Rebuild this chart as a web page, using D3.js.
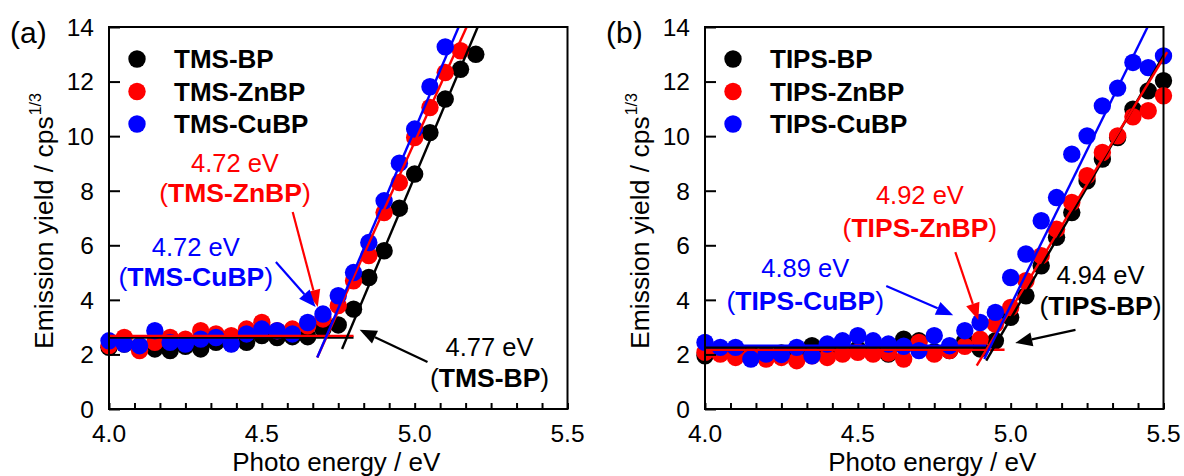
<!DOCTYPE html>
<html><head><meta charset="utf-8">
<script src="https://cdn.jsdelivr.net/npm/d3@7"></script>
<style>
body{margin:0;background:#fff}
svg{display:block;font-family:"Liberation Sans",Arial,Helvetica,sans-serif}
</style>
</head><body>
<svg id="chart" width="1184" height="476"></svg>
<script>
// ---------- data ----------
const xTickLabels = ["4.0","4.5","5.0","5.5"];
const yTickLabels = ["0","2","4","6","8","10","12","14"];

const energyTmsBP   = [4.0,4.05,4.1,4.15,4.2,4.25,4.3,4.35,4.4,4.45,4.5,4.55,4.6,4.65,4.7,4.75,4.8,4.85,4.9,4.95,5.0,5.05,5.1,5.15,5.2];
const yieldTmsBP    = [2.26,2.38,2.3,2.2,2.14,2.3,2.2,2.44,2.4,2.44,2.69,2.62,2.65,2.65,2.93,3.08,3.66,4.82,5.80,7.36,8.61,10.13,11.36,12.45,13.0];
const energyTmsZnBP = [4.0,4.05,4.1,4.15,4.2,4.25,4.3,4.35,4.4,4.45,4.5,4.55,4.6,4.65,4.7,4.75,4.8,4.85,4.9,4.95,5.0,5.05,5.1,5.15];
const yieldTmsZnBP  = [2.32,2.62,2.14,2.44,2.62,2.56,2.87,2.75,2.69,2.93,3.17,2.87,2.93,3.05,3.3,3.79,4.70,5.62,7.20,8.30,9.95,11.05,12.33,13.13];
const energyTmsCuBP = [4.0,4.05,4.1,4.15,4.2,4.25,4.3,4.35,4.4,4.45,4.5,4.55,4.6,4.65,4.7,4.75,4.8,4.85,4.9,4.95,5.0,5.05,5.1];
const yieldTmsCuBP  = [2.5,2.38,2.32,2.87,2.44,2.38,2.56,2.62,2.38,2.75,2.93,2.87,2.75,3.17,3.48,4.15,5.0,6.10,7.63,9.01,10.26,11.81,13.27];

const energyTips    = [4.0,4.05,4.1,4.15,4.2,4.25,4.3,4.35,4.4,4.45,4.5,4.55,4.6,4.65,4.7,4.75,4.8,4.85,4.9,4.95,5.0,5.05,5.1,5.15,5.2,5.25,5.3,5.35,5.4,5.45,5.5];
const yieldTipsBP   = [1.95,2.1,2.05,2.0,2.0,2.05,2.1,2.32,2.1,2.2,2.2,2.15,2.01,2.56,2.5,2.1,2.14,2.5,2.2,2.5,3.36,4.15,5.25,6.29,7.2,8.36,9.16,9.95,10.99,11.66,12.03];
const yieldTipsZnBP = [2.08,2.01,1.89,1.95,1.83,1.89,1.77,1.95,1.89,2.01,2.08,2.01,2.05,1.83,2.44,2.01,2.14,2.3,2.56,3.11,3.72,4.70,5.62,6.59,7.57,8.55,9.40,10.01,10.71,10.93,11.48];
const yieldTipsCuBP = [2.44,2.26,2.26,1.83,2.01,2.0,2.26,1.95,2.38,2.5,2.69,2.5,2.38,2.3,2.14,2.69,2.32,2.87,3.17,3.54,4.82,5.68,6.90,7.75,9.34,10.01,11.11,11.76,12.70,12.51,12.94];

// fit lines [x1, y1, x2, y2] in data units
const fitLinesA = [
  {color:"#000000", seg:[4.0,2.62,4.8,2.62]},
  {color:"#ff0000", seg:[4.0,2.68,4.8,2.68]},
  {color:"#000000", seg:[4.7625,2.2,5.2063,14]},
  {color:"#ff0000", seg:[4.6813,1.89,5.170,14]},
  {color:"#0000ff", seg:[4.6813,1.89,5.144,14]}
];
const fitLinesB = [
  {color:"#ff0000", seg:[4.0,2.17,4.98,2.17]},
  {color:"#0000ff", seg:[4.0,2.32,4.92,2.32]},
  {color:"#000000", seg:[4.0,2.25,4.93,2.25]},
  {color:"#000000", seg:[4.92,1.77,5.5,12.95]},
  {color:"#ff0000", seg:[4.889,1.59,5.512,13.08]},
  {color:"#0000ff", seg:[4.9136,1.83,5.448,14]}
];

// annotations: value label, sample label, position (data units), arrow from -> tip (data units)
const notesA = [
  {color:"#ff0000", value:"4.72 eV", sample:"TMS-ZnBP", x:4.412, y1:9.02, y2:7.92, arrow:[4.601,7.22,4.683,3.74]},
  {color:"#0000ff", value:"4.72 eV", sample:"TMS-CuBP", x:4.284, y1:5.94, y2:4.84, arrow:[4.546,5.39,4.676,3.74]},
  {color:"#000000", value:"4.77 eV", sample:"TMS-BP",   x:5.245, y1:2.27, y2:1.14, arrow:[5.042,1.72,4.820,2.90]}
];
const notesB = [
  {color:"#ff0000", value:"4.92 eV", sample:"TIPS-ZnBP", x:4.703, y1:7.84, y2:6.67, arrow:[4.819,5.75,4.894,3.26]},
  {color:"#0000ff", value:"4.89 eV", sample:"TIPS-CuBP", x:4.328, y1:5.17, y2:3.99, arrow:[4.593,4.51,4.812,3.44]},
  {color:"#000000", value:"4.94 eV", sample:"TIPS-BP",   x:5.294, y1:4.91, y2:3.81, arrow:[5.212,2.90,5.015,2.42]}
];

const panels = [
  {tag:"(a)", left:109, series:[
    {name:"TMS-BP",   color:"#000000", x:energyTmsBP,   y:yieldTmsBP},
    {name:"TMS-ZnBP", color:"#ff0000", x:energyTmsZnBP, y:yieldTmsZnBP},
    {name:"TMS-CuBP", color:"#0000ff", x:energyTmsCuBP, y:yieldTmsCuBP}],
    fits:fitLinesA, notes:notesA},
  {tag:"(b)", left:705, series:[
    {name:"TIPS-BP",   color:"#000000", x:energyTips, y:yieldTipsBP},
    {name:"TIPS-ZnBP", color:"#ff0000", x:energyTips, y:yieldTipsZnBP},
    {name:"TIPS-CuBP", color:"#0000ff", x:energyTips, y:yieldTipsCuBP}],
    fits:fitLinesB, notes:notesB}
];

// ---------- drawing ----------
const svg = d3.select("#chart");
const W = 458.5, plotTop = 27, plotBottom = 409;

panels.forEach(p => {
  const x = d3.scaleLinear().domain([4.0,5.5]).range([p.left, p.left+W]);
  const y = d3.scaleLinear().domain([0,14]).range([plotBottom, plotTop]);
  const g = svg.append("g");

  // panel tag
  g.append("text").attr("x", p.left-99).attr("y", 43).attr("font-size", 30).text(p.tag);

  // points
  p.series.forEach(s => {
    g.append("g").selectAll("circle").data(s.x.map((v,i)=>[v,s.y[i]])).join("circle")
      .attr("cx", d=>x(d[0])).attr("cy", d=>y(d[1])).attr("r", 8.7).attr("fill", s.color);
  });

  // fit lines
  g.append("g").selectAll("line").data(p.fits).join("line")
    .attr("x1", d=>x(d.seg[0])).attr("y1", d=>y(d.seg[1]))
    .attr("x2", d=>x(d.seg[2])).attr("y2", d=>y(d.seg[3]))
    .attr("stroke", d=>d.color).attr("stroke-width", 2.4);

  // axes
  const xMajor = xTickLabels.map(Number);
  const xMinor = d3.range(0,19).map(i => 4 + i/12);
  const xAxis = d3.axisBottom(x).tickValues(xMinor).tickSize(-6).tickFormat("");
  g.append("g").attr("transform",`translate(0,${plotBottom})`).call(xAxis)
    .call(a=>{a.select(".domain").remove(); a.selectAll("line").attr("stroke","#000").attr("stroke-width",2);});
  g.append("g").selectAll("text.xl").data(xMajor).join("text")
    .attr("x", d=>x(d)).attr("y", 442).attr("text-anchor","middle").attr("font-size",24.5)
    .text((d,i)=>xTickLabels[i]);

  const yVals = yTickLabels.map(Number);
  const yAxis = d3.axisLeft(y).tickValues(yVals).tickSize(-11).tickFormat("");
  g.append("g").attr("transform",`translate(${p.left},0)`).call(yAxis)
    .call(a=>{a.select(".domain").remove(); a.selectAll("line").attr("stroke","#000").attr("stroke-width",2);});
  g.append("g").selectAll("text.yl").data(yVals).join("text")
    .attr("x", p.left-15).attr("y", d=>y(d)+8.8).attr("text-anchor","end").attr("font-size",24.5)
    .text((d,i)=>yTickLabels[i]);

  // frame
  g.append("rect").attr("x", p.left).attr("y", plotTop).attr("width", W).attr("height", plotBottom-plotTop)
    .attr("fill","none").attr("stroke","#000").attr("stroke-width",2);

  // axis titles
  g.append("text").attr("x", p.left+W/2-2).attr("y", 471).attr("text-anchor","middle").attr("font-size",26)
    .text("Photo energy / eV");
  const yt = g.append("text").attr("transform",`translate(${p.left-56},349) rotate(-90)`)
    .attr("text-anchor","start").attr("font-size",26.5);
  yt.append("tspan").text("Emission yield / cps");
  yt.append("tspan").attr("dy",-12).attr("dx",1).attr("font-size",16).text("1/3");

  // legend
  p.series.forEach((s,i) => {
    const ly = 59 + i*32.5;
    g.append("circle").attr("cx", p.left+28).attr("cy", ly).attr("r", 8.7).attr("fill", s.color);
    g.append("text").attr("x", p.left+65).attr("y", ly+9).attr("font-size",26).attr("font-weight","bold").text(s.name);
  });

  // annotations
  p.notes.forEach(n => {
    g.append("text").attr("x", x(n.x)).attr("y", y(n.y1)+9).attr("text-anchor","middle")
      .attr("font-size",25.5).attr("fill", n.color).text(n.value);
    const t = g.append("text").attr("x", x(n.x)).attr("y", y(n.y2)+9.5).attr("text-anchor","middle")
      .attr("font-size",26.5).attr("fill", n.color);
    t.append("tspan").text("(");
    t.append("tspan").attr("font-weight","bold").text(n.sample);
    t.append("tspan").text(")");
    const x1 = x(n.arrow[0]), y1 = y(n.arrow[1]), x2 = x(n.arrow[2]), y2 = y(n.arrow[3]);
    const ang = Math.atan2(y2-y1, x2-x1), L = 17, Hw = 7;
    const bx = x2 - L*Math.cos(ang), by = y2 - L*Math.sin(ang);
    g.append("line").attr("x1",x1).attr("y1",y1).attr("x2",bx).attr("y2",by)
      .attr("stroke", n.color).attr("stroke-width",2.2);
    const pts = [[x2,y2],[bx - Hw*Math.sin(ang), by + Hw*Math.cos(ang)],[bx + Hw*Math.sin(ang), by - Hw*Math.cos(ang)]];
    g.append("polygon").attr("points", pts.map(q=>q.join(",")).join(" ")).attr("fill", n.color);
  });
});
</script>
</body></html>
